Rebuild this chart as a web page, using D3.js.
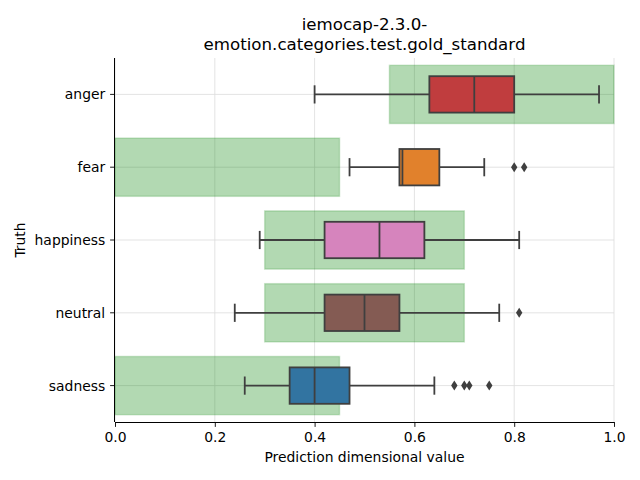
<!DOCTYPE html>
<html>
<head>
<meta charset="utf-8">
<script src="https://cdn.jsdelivr.net/npm/d3@7"></script>
<style>
  html, body { margin: 0; padding: 0; background: #fff; }
  svg { display: block; font-family: "DejaVu Sans", sans-serif; }
</style>
</head>
<body>
<svg id="chart" width="640" height="480"></svg>
<script>
// ---- data ----
const categories = ["anger", "fear", "happiness", "neutral", "sadness"];
const boxColors = ["#c03d3e", "#e1812c", "#d684bd", "#845b53", "#3274a1"];
const whiskerLow = [0.40, 0.47, 0.29, 0.24, 0.26];
const q1 = [0.63, 0.57, 0.42, 0.42, 0.35];
const medians = [0.72, 0.576, 0.53, 0.50, 0.40];
const q3 = [0.80, 0.65, 0.62, 0.57, 0.47];
const whiskerHigh = [0.97, 0.74, 0.81, 0.77, 0.64];
const outliers = [[], [0.80, 0.82], [], [0.81], [0.68, 0.70, 0.71, 0.75]];
const goldLow = [0.55, 0.0, 0.3, 0.3, 0.0];
const goldHigh = [1.0, 0.45, 0.7, 0.7, 0.45];
const xTicks = [0, 0.2, 0.4, 0.6, 0.8, 1.0];
const titleLines = ["iemocap-2.3.0-", "emotion.categories.test.gold_standard"];
const xLabel = "Prediction dimensional value";
const yLabel = "Truth";

// ---- layout ----
const mLeft = 115, mRight = 614, mTop = 58, mBottom = 422;
const svg = d3.select("#chart");
const x = d3.scaleLinear().domain([0, 1]).range([mLeft, mRight]);
const y = d3.scaleBand().domain(categories).range([mTop, mBottom]);
const bw = y.bandwidth();
const cy = c => y(c) + bw / 2;
const edge = "#3f3f3f";
const fontSize = 13.9;

// grid
const grid = svg.append("g");
grid.selectAll("line.v").data(xTicks).join("line").attr("class", "v")
  .attr("x1", d => x(d)).attr("x2", d => x(d))
  .attr("y1", mTop).attr("y2", mBottom)
  .attr("stroke", "#dcdcdc").attr("stroke-width", 0.8);
grid.selectAll("line.h").data(categories).join("line").attr("class", "h")
  .attr("x1", mLeft).attr("x2", mRight)
  .attr("y1", d => cy(d)).attr("y2", d => cy(d))
  .attr("stroke", "#dcdcdc").attr("stroke-width", 0.8);

// gold-standard rectangles
svg.append("g").selectAll("rect").data(categories).join("rect")
  .attr("x", (d, i) => x(goldLow[i]))
  .attr("width", (d, i) => x(goldHigh[i]) - x(goldLow[i]))
  .attr("y", d => cy(d) - bw * 0.4)
  .attr("height", bw * 0.8)
  .attr("fill", "#008000").attr("fill-opacity", 0.3)
  .attr("stroke", "#008000").attr("stroke-opacity", 0.18).attr("stroke-width", 1.5);

// boxes
const boxH = bw * 0.5;
const capH = boxH * 0.5;
const g = svg.append("g");
categories.forEach((c, i) => {
  const yc = cy(c);
  g.append("line").attr("x1", x(whiskerLow[i])).attr("x2", x(q1[i]))
    .attr("y1", yc).attr("y2", yc).attr("stroke", edge).attr("stroke-width", 1.8);
  g.append("line").attr("x1", x(q3[i])).attr("x2", x(whiskerHigh[i]))
    .attr("y1", yc).attr("y2", yc).attr("stroke", edge).attr("stroke-width", 1.8);
  [whiskerLow[i], whiskerHigh[i]].forEach(v => {
    g.append("line").attr("x1", x(v)).attr("x2", x(v))
      .attr("y1", yc - capH / 2).attr("y2", yc + capH / 2)
      .attr("stroke", edge).attr("stroke-width", 1.8);
  });
  g.append("rect").attr("x", x(q1[i])).attr("width", x(q3[i]) - x(q1[i]))
    .attr("y", yc - boxH / 2).attr("height", boxH)
    .attr("fill", boxColors[i]).attr("stroke", edge).attr("stroke-width", 1.8);
  g.append("line").attr("x1", x(medians[i])).attr("x2", x(medians[i]))
    .attr("y1", yc - boxH / 2).attr("y2", yc + boxH / 2)
    .attr("stroke", edge).attr("stroke-width", 1.8);
  outliers[i].forEach(v => {
    const px = x(v);
    g.append("path")
      .attr("d", `M${px},${yc - 5}L${px + 3.2},${yc}L${px},${yc + 5}L${px - 3.2},${yc}Z`)
      .attr("fill", edge);
  });
});

// axes
const xAxis = d3.axisBottom(x).tickValues(xTicks).tickFormat(d3.format(".1f"))
  .tickSize(4.9).tickPadding(4.9);
const xg = svg.append("g").attr("transform", `translate(0,${mBottom})`).call(xAxis);
xg.select(".domain").attr("stroke", "#000").attr("stroke-width", 1)
  .attr("d", `M${mLeft},0.5H${mRight}`);
xg.selectAll(".tick line").attr("stroke", "#000").attr("stroke-width", 0.9);
xg.selectAll(".tick text").attr("font-size", fontSize).attr("font-family", "DejaVu Sans")
  .attr("fill", "#000").attr("dy", null).attr("y", 19.5);

const yAxis = d3.axisLeft(y).tickSize(4.9).tickPadding(4.9);
const yg = svg.append("g").attr("transform", `translate(${mLeft},0)`).call(yAxis);
yg.select(".domain").attr("stroke", "#000").attr("stroke-width", 1)
  .attr("d", `M-0.5,${mTop}V${mBottom}`);
yg.selectAll(".tick line").attr("stroke", "#000").attr("stroke-width", 0.9);
yg.selectAll(".tick text").attr("font-size", fontSize).attr("font-family", "DejaVu Sans")
  .attr("fill", "#000").attr("dy", null).attr("y", 5);

// labels
svg.append("text").attr("x", (mLeft + mRight) / 2).attr("y", 462)
  .attr("text-anchor", "middle").attr("font-size", fontSize).text(xLabel);
svg.append("text").attr("transform", `translate(25,${(mTop + mBottom) / 2}) rotate(-90)`)
  .attr("text-anchor", "middle").attr("font-size", fontSize).text(yLabel);
svg.append("g").selectAll("text").data(titleLines).join("text")
  .attr("x", (mLeft + mRight) / 2).attr("y", (d, i) => 30 + i * 20)
  .attr("text-anchor", "middle").attr("font-size", 16.67).text(d => d);
</script>
</body>
</html>
